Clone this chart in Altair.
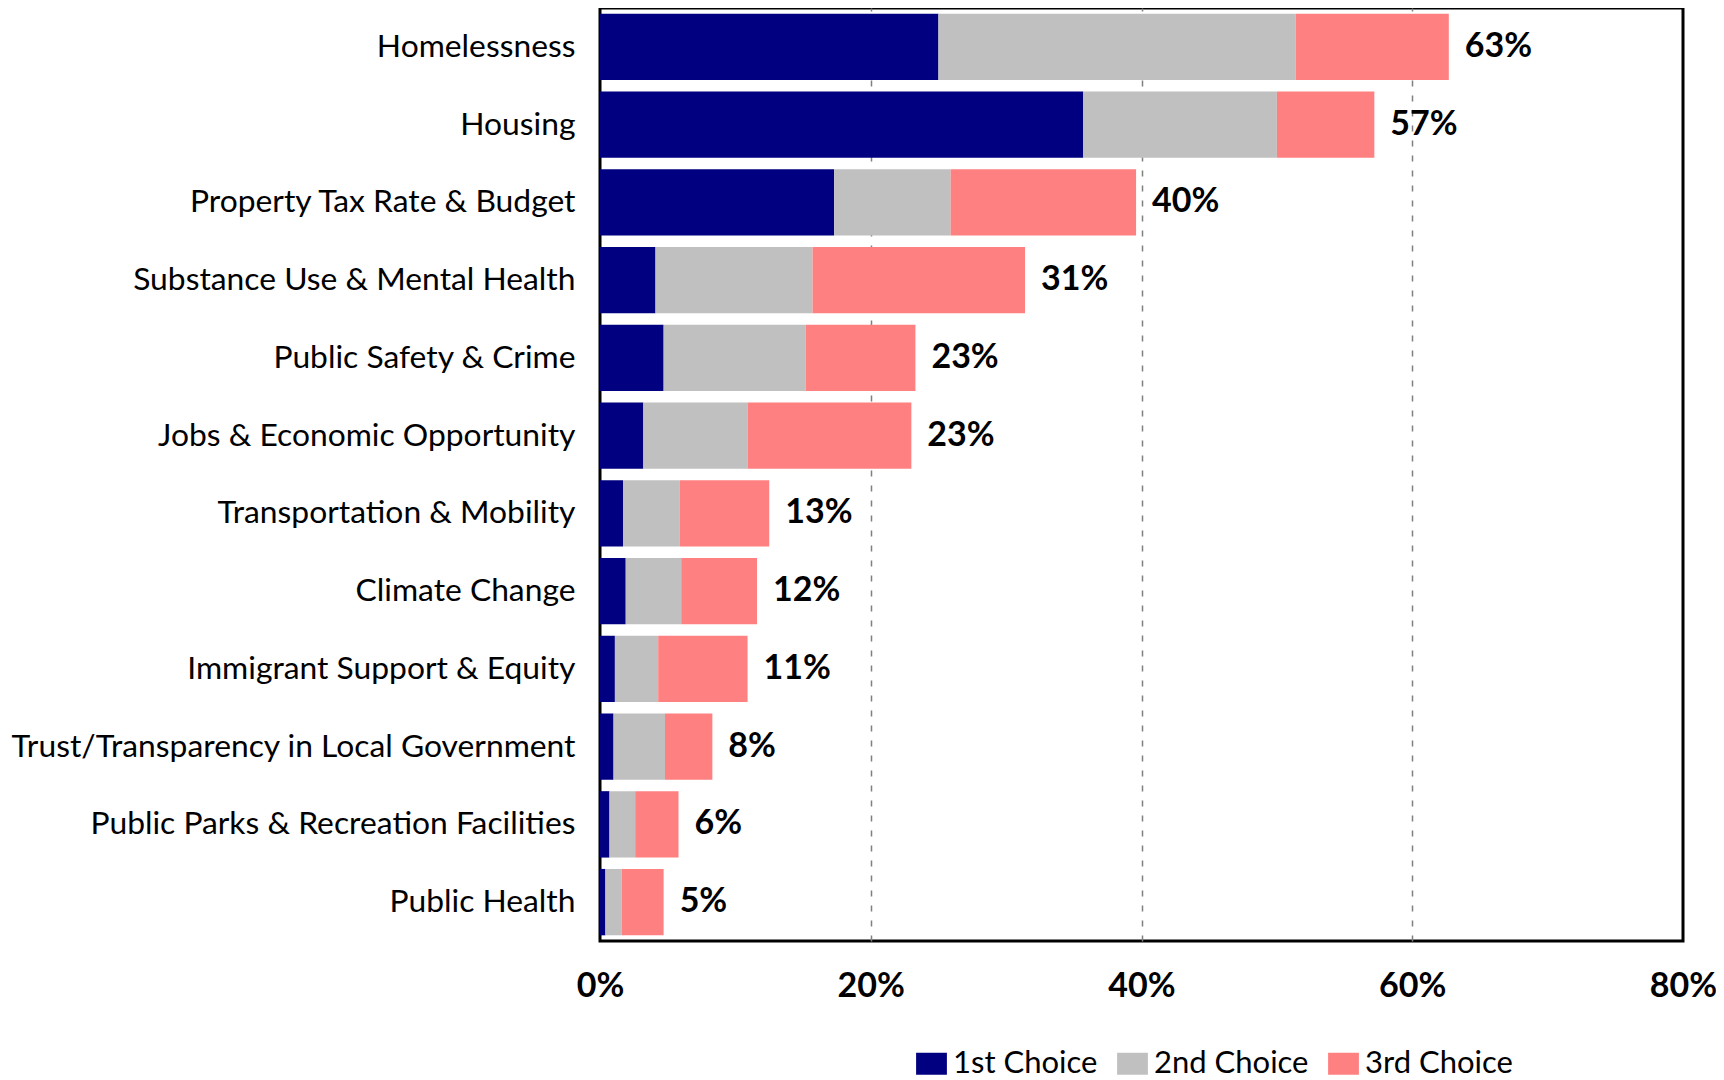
import altair as alt
import pandas as pd

categories = [
    "Homelessness",
    "Housing",
    "Property Tax Rate & Budget",
    "Substance Use & Mental Health",
    "Public Safety & Crime",
    "Jobs & Economic Opportunity",
    "Transportation & Mobility",
    "Climate Change",
    "Immigrant Support & Equity",
    "Trust/Transparency in Local Government",
    "Public Parks & Recreation Facilities",
    "Public Health",
]
first_choice = [25.0, 35.7, 17.3, 4.1, 4.7, 3.2, 1.7, 1.9, 1.1, 1.0, 0.7, 0.4]
second_choice = [26.4, 14.3, 8.6, 11.6, 10.5, 7.7, 4.2, 4.1, 3.2, 3.8, 1.9, 1.2]
third_choice = [11.3, 7.2, 13.7, 15.7, 8.1, 12.1, 6.6, 5.6, 6.6, 3.5, 3.2, 3.1]
total_labels = ["63%", "57%", "40%", "31%", "23%", "23%", "13%", "12%", "11%", "8%", "6%", "5%"]

series_names = ["1st Choice", "2nd Choice", "3rd Choice"]
series_colors = ["#000080", "#C0C0C0", "#FF8080"]
tick_values = [0, 20, 40, 60, 80]

rows = []
for i, cat in enumerate(categories):
    for j, (name, vals) in enumerate(zip(series_names, [first_choice, second_choice, third_choice])):
        rows.append({"category": cat, "series": name, "value": vals[i], "order": j})
df = pd.DataFrame(rows)

totals = pd.DataFrame({
    "category": categories,
    "total": [a + b + c for a, b, c in zip(first_choice, second_choice, third_choice)],
    "label": total_labels,
})

FONT = "Lato"

y_enc = alt.Y(
    "category:N",
    sort=categories,
    title=None,
    scale=alt.Scale(paddingInner=0.146, paddingOuter=0.073),
    axis=alt.Axis(
        labelFont=FONT, labelFontSize=31.8, labelColor="black", labelPadding=25,
        ticks=False, domain=False, labelLimit=1000,
    ),
)

x_scale = alt.Scale(domain=[0, 80], nice=False)

bars = alt.Chart(df).mark_bar().encode(
    x=alt.X(
        "value:Q",
        stack="zero",
        scale=x_scale,
        title=None,
        axis=alt.Axis(
            values=tick_values,
            labelExpr="datum.value + '%'",
            labelFont=FONT, labelFontSize=34, labelFontWeight="bold", labelColor="black",
            labelPadding=28, ticks=False, domain=False, labelFlush=False,
            grid=True, gridColor="#7f7f7f", gridDash=[6, 9], gridWidth=1.5,
            gridOpacity={"condition": {"test": "datum.value === 0 || datum.value === 80", "value": 0}, "value": 1},
        ),
    ),
    y=y_enc,
    color=alt.Color(
        "series:N",
        scale=alt.Scale(domain=series_names, range=series_colors),
        legend=alt.Legend(
            title=None, orient="none", direction="horizontal",
            legendX=316, legendY=1040,
            labelFont=FONT, labelFontSize=31, labelColor="black",
            symbolType="M-1.4,-1H1.4V1H-1.4Z", symbolSize=484, symbolStrokeWidth=0,
            labelOffset=6, columnPadding=19, padding=0,
        ),
    ),
    order=alt.Order("order:Q"),
)

labels = alt.Chart(totals).mark_text(
    align="left", baseline="middle", dx=16,
    font=FONT, fontSize=34, fontWeight="bold", color="black",
).encode(
    x=alt.X("total:Q", scale=x_scale),
    y=alt.Y("category:N", sort=categories),
    text="label:N",
)

chart = alt.layer(bars, labels).properties(
    width=1083, height=933,
    background="white",
    autosize=alt.AutoSizeParams(type="none"),
    padding={"left": 592, "top": 0, "right": 33, "bottom": 136},
).configure_view(
    stroke="black", strokeWidth=3,
)

chart.save("out.html", embed_options={"renderer": "svg", "actions": False})
